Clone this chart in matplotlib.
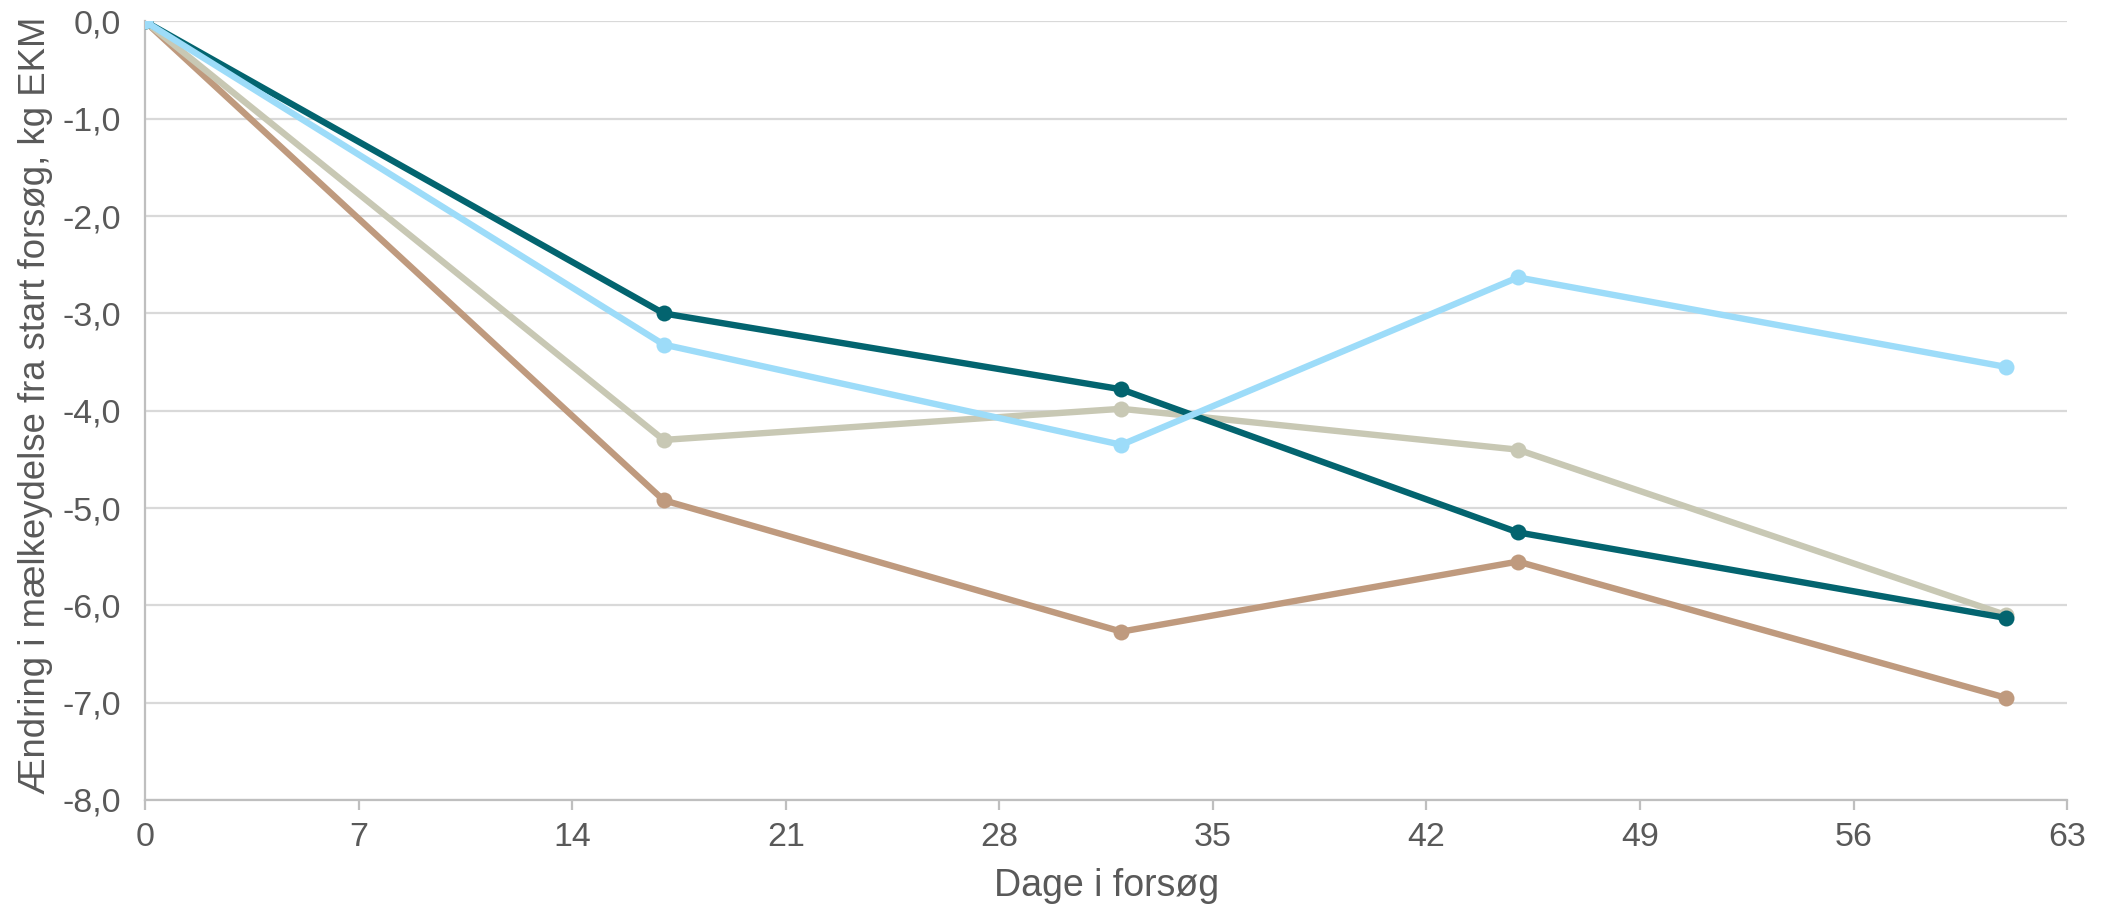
# milk yield change over the trial period, four groups

import matplotlib
matplotlib.use("Agg")
import matplotlib.pyplot as plt
from matplotlib.ticker import FuncFormatter, MultipleLocator

plt.rcParams['font.family'] = ['Liberation Sans', 'DejaVu Sans']

days = [0, 17, 32, 45, 61]

# change in yield (kg EKM) per group, drawn bottom to top in this order
brown = [0.0, -4.92, -6.27, -5.55, -6.95]
beige = [0.0, -4.30, -3.98, -4.40, -6.10]
teal = [0.0, -3.00, -3.78, -5.25, -6.13]
lightblue = [0.0, -3.32, -4.35, -2.63, -3.55]

series = [
    (brown, "#bf9a7e"),
    (beige, "#c8c8b4"),
    (teal, "#03646f"),
    (lightblue, "#9ddcf9"),
]

textcol = "#595959"
gridcol = "#d9d9d9"

fig = plt.figure(figsize=(21.05, 9.06), dpi=100)
ax = fig.add_axes([0.0689, 0.117, 0.9131, 0.8593])

for vals, col in series:
    ax.plot(days, vals, color=col, linewidth=4.6, marker='o', markersize=11.5,
            markeredgewidth=0, solid_joinstyle='round', zorder=3)

ax.set_xlim(0, 63)
ax.set_ylim(-8, 0)
ax.xaxis.set_major_locator(MultipleLocator(7))
ax.yaxis.set_major_locator(MultipleLocator(1))
ax.yaxis.set_major_formatter(FuncFormatter(lambda v, p: f"{v:.1f}".replace('.', ',')))

ax.grid(axis='y', color=gridcol, linewidth=1.6, zorder=0)
ax.set_axisbelow(True)
for side in ['top', 'right']:
    ax.spines[side].set_visible(False)
for side in ['left', 'bottom']:
    ax.spines[side].set_color("#bfbfbf")
    ax.spines[side].set_linewidth(1.6)

ax.tick_params(axis='x', length=7, width=1.6, color="#bfbfbf", pad=9,
               labelsize=24.5, labelcolor=textcol)
ax.tick_params(axis='y', length=0, pad=17, labelsize=24.5, labelcolor=textcol)

ax.set_xlabel("Dage i forsøg", fontsize=27, color=textcol, labelpad=11)
ax.set_ylabel("Ændring i mælkeydelse fra start forsøg, kg EKM", fontsize=26.3,
              color=textcol)
ax.yaxis.set_label_coords(-0.048, 0.507)

fig.savefig("out.png", dpi=100, facecolor='white')
